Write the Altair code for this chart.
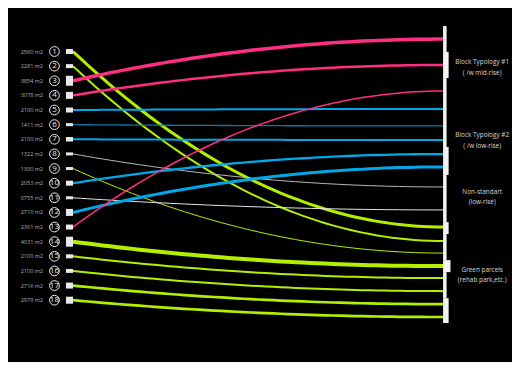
import altair as alt
import pandas as pd

# ---- data ----
node_ids = list(range(1, 19))
areas = ["2560", "2281", "3854", "3078", "2100", "1411", "2100", "1322", "1300",
         "2053", "0755", "2710", "2361", "4031", "2100", "2100", "2716", "2979"]
# target slot on the right (in left-row units)
right_pos = [13.0, 13.96, 0.15, 1.92, 4.93, 6.09, 7.05, 10.26, 14.78,
             8.01, 11.83, 8.89, 3.70, 15.67, 16.49, 17.38, 18.27, 19.15]
groups = ["green", "green", "pink", "pink", "blue", "blue2", "blue", "white", "green",
          "blue", "white2", "blue", "pink", "green", "green", "green", "green", "green"]
line_widths = [3, 2, 3.5, 2.5, 2, 1.3, 2, 1, 1, 2.3, 1, 3, 1.5, 4, 2, 2, 2.7, 2.7]
box_heights = [5, 4, 10, 7, 5, 3, 4.5, 3, 3, 5, 3, 7, 5, 10, 4, 4, 6, 7]  # px

group_names = ["pink", "blue", "blue2", "white", "white2", "green"]
group_colors = ["#ff2e80", "#00a8e6", "#0b78a8", "#b8b8b8", "#e6e6e6", "#b2f000"]

# right bar segments (row units) and how far each sticks out (x units)
seg_top = [-0.74, 1.03, 2.81, 7.53, 9.44, 12.66, 13.48, 15.26, 16.08, 17.86]
seg_bot = [1.03, 2.81, 7.53, 9.44, 12.66, 13.48, 15.26, 16.08, 17.86, 19.56]
seg_right = [100.7, 101.25, 100.7, 101.25, 100.7, 101.25, 100.7, 101.75, 100.7, 101.25]

cat_labels = ["Block Typology #1\n( /w mid-rise)", "Block Typology #2\n( /w low-rise)",
              "Non-standart\n(low-rise)", "Green parcels\n(rehab park,etc.)"]
cat_pos = [1.74, 6.72, 10.58, 15.92]

ROW_PX = 14.63
links = pd.DataFrame({
    "node": node_ids, "left": node_ids, "right": right_pos,
    "group": groups, "w": line_widths,
})
nodes = pd.DataFrame({
    "node": node_ids, "row": node_ids,
    "label": [a + " m2" for a in areas],
    "top": [n - h / 2 / ROW_PX for n, h in zip(node_ids, box_heights)],
    "bot": [n + h / 2 / ROW_PX for n, h in zip(node_ids, box_heights)],
})
segs = pd.DataFrame({"top": seg_top, "bot": seg_bot, "right": seg_right})
cats = pd.DataFrame({"label": cat_labels, "row": cat_pos})

xs = alt.Scale(domain=[0, 100], range=[65, 436], nice=False, zero=False)
ys = alt.Scale(domain=[1, 18], range=[43.5, 292.2], nice=False, zero=False)
FONT = "Open Sans"

curves = alt.Chart(links).transform_calculate(
    t="sequence(0, 1.0001, 0.02)"
).transform_flatten(["t"]).transform_calculate(
    u="datum.t * 100",
    r="datum.left + (datum.right - datum.left) * (1 - (1 - datum.t) * (1 - datum.t))",
).mark_line(strokeCap="butt").encode(
    x=alt.X("u:Q", scale=xs, axis=None),
    y=alt.Y("r:Q", scale=ys, axis=None),
    detail="node:N",
    order="t:Q",
    color=alt.Color("group:N", scale=alt.Scale(domain=group_names, range=group_colors), legend=None),
    strokeWidth=alt.StrokeWidth("w:Q", scale=None),
)

boxes = alt.Chart(nodes).transform_calculate(x0="-1.9", x1="0").mark_rect(color="#e8e8e8").encode(
    x=alt.X("x0:Q", scale=xs, axis=None), x2="x1:Q",
    y=alt.Y("top:Q", scale=ys, axis=None), y2="bot:Q",
)

bar = alt.Chart(segs).transform_calculate(x0="99.75").mark_rect(color="#f2f2f2").encode(
    x=alt.X("x0:Q", scale=xs, axis=None), x2="right:Q",
    y=alt.Y("top:Q", scale=ys, axis=None), y2="bot:Q",
)

circles = alt.Chart(nodes).transform_calculate(cx="-5").mark_point(
    shape="circle", filled=False, stroke="#f0f0f0", strokeWidth=1, size=95, opacity=1
).encode(
    x=alt.X("cx:Q", scale=xs, axis=None),
    y=alt.Y("row:Q", scale=ys, axis=None),
)

nums = alt.Chart(nodes).transform_calculate(cx="-5").mark_text(
    font=FONT, fontSize=8, color="#f0f0f0", baseline="middle", align="center"
).encode(
    x=alt.X("cx:Q", scale=xs, axis=None),
    y=alt.Y("row:Q", scale=ys, axis=None),
    text="node:N",
)

area_txt = alt.Chart(nodes).transform_calculate(lx="-8.1").mark_text(
    font=FONT, fontSize=5.5, color="#b0b0b0", baseline="middle", align="right"
).encode(
    x=alt.X("lx:Q", scale=xs, axis=None),
    y=alt.Y("row:Q", scale=ys, axis=None),
    text="label:N",
)

cat_txt = alt.Chart(cats).transform_calculate(lx="110.3").mark_text(
    font=FONT, fontSize=6.4, color="#d8d8d8", baseline="middle", align="center",
    lineBreak="\n", lineHeight=10.5
).encode(
    x=alt.X("lx:Q", scale=xs, axis=None),
    y=alt.Y("row:Q", scale=ys, axis=None),
    text="label:N",
)

chart = alt.layer(curves, bar, boxes, circles, nums, area_txt, cat_txt).properties(
    width=504, height=354, background="black", padding=0,
    autosize=alt.AutoSizeParams(type="none"),
).configure_view(strokeWidth=0)

chart.save("out.html", embed_options={"renderer": "svg", "actions": False})
